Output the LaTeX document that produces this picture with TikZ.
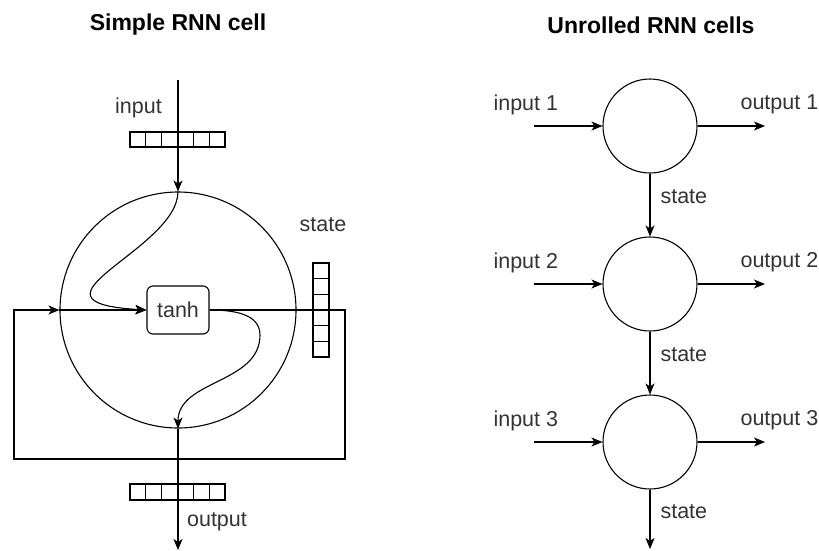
\documentclass[tikz,border=0pt]{standalone}
\usepackage{fontspec}
\setmainfont{Liberation Sans}
\usetikzlibrary{arrows.meta}
\definecolor{lbl}{HTML}{333333}
\begin{document}
\begin{tikzpicture}[x=1pt,y=-1pt,
  line width=1.1pt,
  arr/.style={-{Stealth[length=11pt,width=9pt,inset=3pt]}},
  lab/.style={text=lbl,inner sep=0pt,font=\fontsize{21.5}{24}\selectfont},
  ttl/.style={inner sep=0pt,font=\fontsize{23}{26}\selectfont\bfseries},
  cellc/.style={circle,draw,inner sep=0pt,minimum size=94pt},
  cellbox/.style={draw,line width=1.1pt}]
\useasboundingbox (0,0) rectangle (819,550);
% titles
\node[ttl] (t1) at (178,25) {Simple RNN cell};
\node[ttl] (t2) at (651,25) {Unrolled RNN cells};
% ---------- left ----------
\node[circle,draw,inner sep=0pt,minimum size=236pt] (bigc) at (178,310) {};
\node[draw,rounded corners=6pt,minimum width=62pt,minimum height=48pt,inner sep=0pt,lab,text=lbl] (tanh) at (178,310) {tanh};
\coordinate (inTop) at (178,80);
\coordinate (outBot) at (178,550);
\coordinate (outMid) at (260,335);
\coordinate (lpA) at (345,310);
\coordinate (lpB) at (345,459);
\coordinate (lpC) at (14,459);
\coordinate (lpD) at (14,310);
\draw[arr] (inTop) -- (bigc.north);
\draw[arr] (bigc.south) -- (outBot);
\draw[arr] (bigc.north) .. controls (178,250) and (10,302) .. (tanh.west);
\draw[arr] (tanh.east) to[out=0,in=90] (outMid) to[out=-90,in=90] (bigc.south);
\draw[arr] (tanh.east) -- (lpA) -- (lpB) -- (lpC) -- (lpD) -- (bigc.west);
\draw[arr] (bigc.west) -- (tanh.west);
% vectors
\foreach \i in {0,...,5}{
  \draw[cellbox] (130+\i*15.83,132) rectangle (130+\i*15.83+15.83,147);
  \draw[cellbox] (130+\i*15.83,484) rectangle (130+\i*15.83+15.83,500);
  \draw[cellbox] (313,263+\i*15.67) rectangle (329,263+\i*15.67+15.67);
}
\node[lab] (linput) at (138.5,108) {input};
\node[lab] (lstate) at (323,225) {state};
\node[lab] (loutput) at (217,522) {output};
% ---------- right ----------
\foreach \k/\y in {1/126,2/284,3/442}{
  \node[cellc] (c\k) at (650,\y) {};
  \coordinate (i\k) at (534,\y);
  \coordinate (o\k) at (765,\y);
  \draw[arr] (i\k) -- (c\k.west);
  \draw[arr] (c\k.east) -- (o\k);
  \node[lab,anchor=west] (li\k) at (493,\y-21) {input \k};
  \node[lab,anchor=west] (lo\k) at (740,\y-22) {output \k};
}
\coordinate (sEnd) at (650,549);
\draw[arr] (c1.south) -- (c2.north);
\draw[arr] (c2.south) -- (c3.north);
\draw[arr] (c3.south) -- (sEnd);
\node[lab,anchor=west] (ls1) at (660,197) {state};
\node[lab,anchor=west] (ls2) at (660,355) {state};
\node[lab,anchor=west] (ls3) at (660,512) {state};
\end{tikzpicture}
\end{document}
